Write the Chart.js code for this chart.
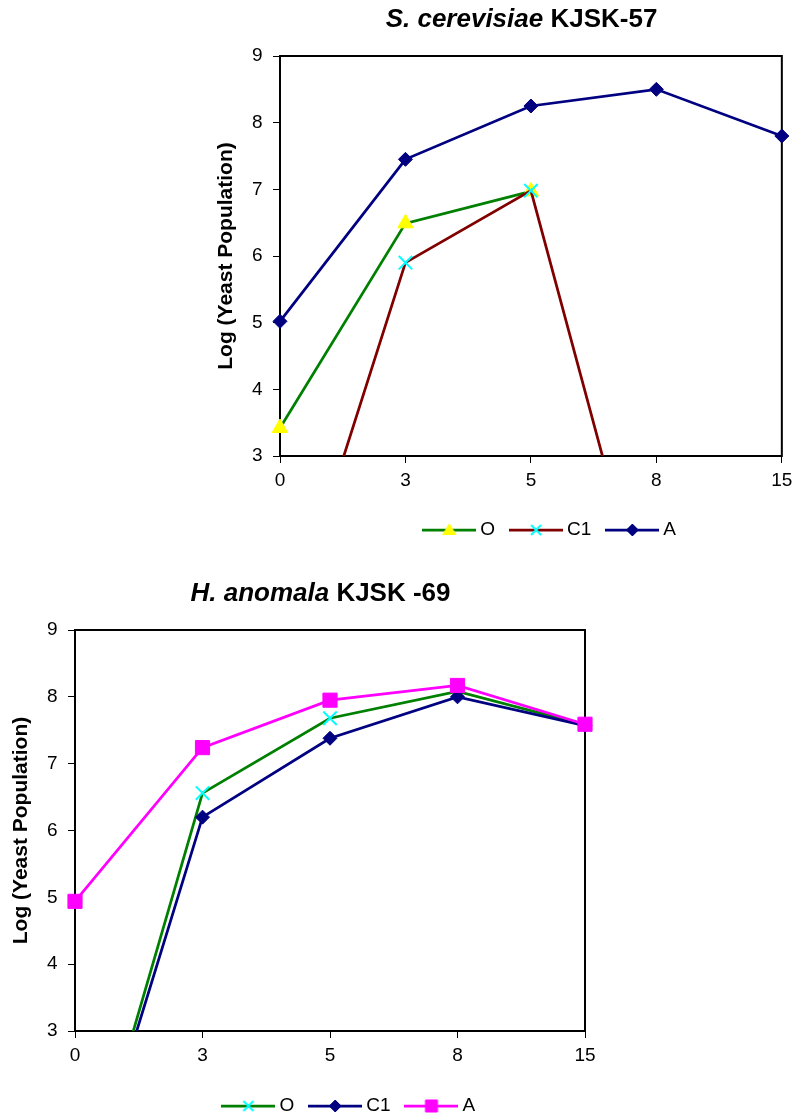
<!DOCTYPE html>
<html>
<head>
<meta charset="utf-8">
<title>Yeast population during fermentation</title>
<script src="https://cdn.jsdelivr.net/npm/chart.js@4.4.1/dist/chart.umd.min.js"></script>
<style>
  html, body { margin: 0; padding: 0; background: #fff; width: 799px; height: 1120px; overflow: hidden; }
  canvas { position: absolute; left: 0; display: block; }
  .ttl {
    position: absolute; white-space: nowrap; color: #000;
    font: bold 26px/26px "Liberation Sans", Arial, sans-serif;
    transform: translateX(-50%);
  }
</style>
</head>
<body>
<canvas id="scChart" width="799" height="560" style="top:0"></canvas>
<canvas id="haChart" width="799" height="566" style="top:560px"></canvas>
<div class="ttl" style="left:521.5px; top:4.7px"><i>S. cerevisiae</i> KJSK-57</div>
<div class="ttl" style="left:320.5px; top:579px"><i>H. anomala</i> KJSK -69</div>

<script>
// Sampling days (category axis)
const days = ['0', '3', '5', '8', '15'];

// Log yeast population, S. cerevisiae KJSK-57
const scO  = [3.42, 6.49, 6.97, null, null];
const scC1 = [0, 5.9, 6.98, 0, 0];
const scA  = [5.02, 7.45, 8.25, 8.5, 7.8];

// Log yeast population, H. anomala KJSK -69
const haO  = [0, 6.56, 7.68, 8.08, 7.58];
const haC1 = [0, 6.2, 7.38, 8.0, 7.57];
const haA  = [4.94, 7.24, 7.95, 8.17, 7.59];

const yRange = [3, 9];
const yTitle = 'Log (Yeast Population)';

const FONT = "'Liberation Sans', Arial, sans-serif";
Chart.defaults.font.family = FONT;
Chart.defaults.color = '#000';

const GREEN = '#008000', MAROON = '#800000', NAVY = '#000080',
      MAGENTA = '#FF00FF', CYAN = '#00FFFF', YELLOW = '#FFFF00';

// marker look per style
const markers = {
  triangle: { radius: 9, border: 1 },
  crossRot: { radius: 9.5, border: 2 },
  rectRot:  { radius: 7, border: 1 },
  rect:     { radius: 10, border: 1 }
};

function series(label, data, line, style, fill, edge) {
  const m = markers[style];
  return {
    label, data,
    borderColor: line, borderWidth: 2.75, tension: 0, fill: false,
    pointStyle: style, pointRadius: m.radius, pointHoverRadius: m.radius,
    pointBorderWidth: m.border,
    pointBackgroundColor: fill, pointBorderColor: edge
  };
}

// small picture of line + marker used as legend key
function drawMarker(g, style, x, y, fill, edge) {
  g.fillStyle = fill; g.strokeStyle = edge; g.lineWidth = 1;
  g.beginPath();
  if (style === 'triangle') {
    g.moveTo(x, y - 6); g.lineTo(x + 6.5, y + 4.5); g.lineTo(x - 6.5, y + 4.5); g.closePath();
    g.fill(); g.stroke();
  } else if (style === 'crossRot') {
    g.lineWidth = 2;
    g.moveTo(x - 5, y - 5); g.lineTo(x + 5, y + 5);
    g.moveTo(x + 5, y - 5); g.lineTo(x - 5, y + 5);
    g.stroke();
  } else if (style === 'rectRot') {
    g.moveTo(x, y - 6); g.lineTo(x + 6, y); g.lineTo(x, y + 6); g.lineTo(x - 6, y); g.closePath();
    g.fill(); g.stroke();
  } else {
    g.rect(x - 6, y - 6, 12, 12);
    g.fill(); g.stroke();
  }
}

function legendKey(ds) {
  const c = document.createElement('canvas');
  c.width = 54; c.height = 18;
  const g = c.getContext('2d');
  g.strokeStyle = ds.borderColor; g.lineWidth = 2.75;
  g.beginPath(); g.moveTo(0, 9); g.lineTo(54, 9); g.stroke();
  drawMarker(g, ds.pointStyle, 27, 9, ds.pointBackgroundColor, ds.pointBorderColor);
  return c;
}

// black frame around the plot area
const plotFrame = {
  id: 'plotFrame',
  beforeDatasetsDraw(chart) {
    const { ctx, chartArea: a } = chart;
    ctx.save();
    ctx.strokeStyle = '#000';
    ctx.lineWidth = 2;
    ctx.strokeRect(a.left, a.top, a.width, a.height);
    ctx.restore();
  }
};

// slide the legend sideways under the plot
const legendShift = {
  id: 'legendShift',
  afterLayout(chart, args, opts) {
    const lg = chart.legend;
    if (lg && opts.dx) { lg.left += opts.dx; lg.right += opts.dx; }
  }
};

function makeChart(id, datasets, lay) {
  // later series are painted over earlier ones
  datasets.forEach((d, i) => { d.order = datasets.length - i; });
  return new Chart(document.getElementById(id), {
    type: 'line',
    data: { labels: days, datasets },
    plugins: [plotFrame, legendShift],
    options: {
      responsive: false,
      animation: false,
      events: [],
      layout: { padding: lay.padding },
      scales: {
        x: {
          type: 'category',
          offset: false,
          border: { display: false },
          grid: { drawOnChartArea: false, drawTicks: true, tickLength: 7, tickColor: '#000', tickWidth: 1 },
          ticks: { color: '#000', font: { size: 19 }, padding: 6.6, maxRotation: 0, autoSkip: false },
          afterFit: s => { s.height = lay.xHeight; }
        },
        y: {
          min: yRange[0], max: yRange[1],
          border: { display: false },
          grid: { drawOnChartArea: false, drawTicks: true, tickLength: 7, tickColor: '#000', tickWidth: 1 },
          ticks: { stepSize: 1, color: '#000', font: { size: 19 }, padding: 10.5 },
          title: {
            display: true, text: yTitle, color: '#000',
            font: { size: 21, weight: 'bold' },
            padding: { top: lay.yTitlePad, bottom: 0 }
          },
          afterFit: s => { s.width = lay.yWidth; }
        }
      },
      plugins: {
        title: { display: false },
        tooltip: { enabled: false },
        legendShift: { dx: lay.legendDx },
        legend: {
          position: 'bottom',
          fullSize: false,
          labels: {
            usePointStyle: true,
            pointStyleWidth: 43,
            padding: 19.5,
            color: '#000',
            font: { size: 19 },
            generateLabels: chart => chart.data.datasets.map((ds, i) => ({
              text: ds.label,
              pointStyle: legendKey(ds),
              fillStyle: 'rgba(0,0,0,0)',
              strokeStyle: 'rgba(0,0,0,0)',
              lineWidth: 0,
              hidden: false,
              datasetIndex: i,
              fontColor: '#000'
            }))
          }
        }
      }
    }
  });
}

makeChart('scChart', [
  series('O',  scO,  GREEN,  'triangle', YELLOW, YELLOW),
  series('C1', scC1, MAROON, 'crossRot', CYAN,   CYAN),
  series('A',  scA,  NAVY,   'rectRot',  NAVY,   NAVY)
], { padding: { left: 200, right: 13, top: 56, bottom: 10.5 }, yWidth: 80, yTitlePad: 13.4, xHeight: 45, legendDx: 21 });

makeChart('haChart', [
  series('O',  haO,  GREEN,   'crossRot', CYAN,    CYAN),
  series('C1', haC1, NAVY,    'rectRot',  NAVY,    NAVY),
  series('A',  haA,  MAGENTA, 'rect',     MAGENTA, MAGENTA)
], { padding: { left: 0, right: 214, top: 70, bottom: 0.5 }, yWidth: 75, yTitlePad: 8.6, xHeight: 46, legendDx: 21 });
</script>
</body>
</html>
